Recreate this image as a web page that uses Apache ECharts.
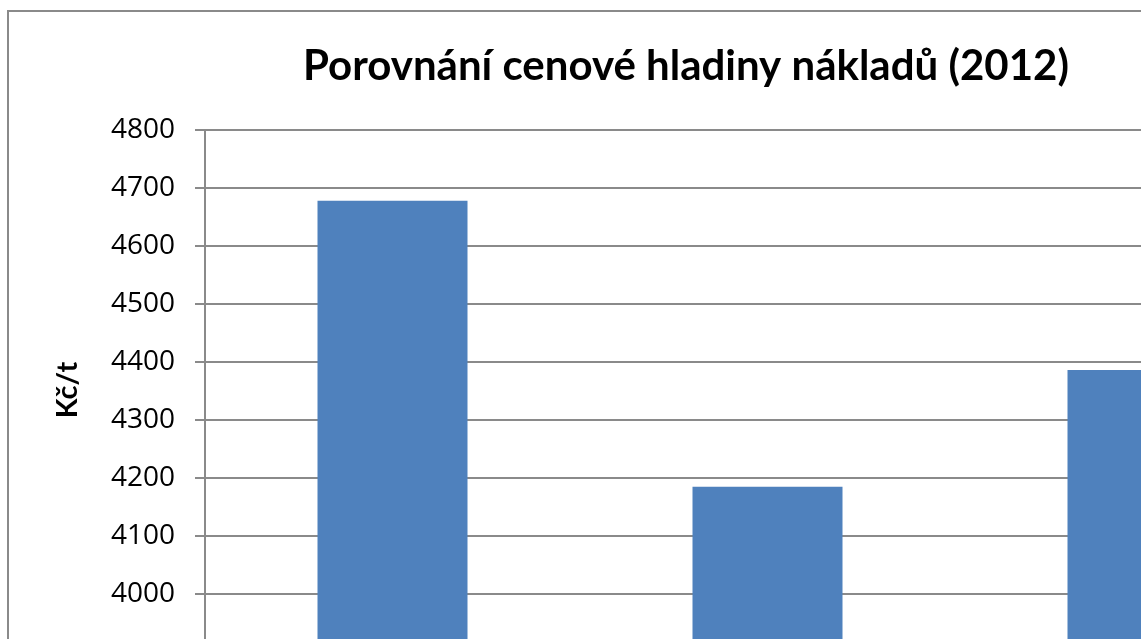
<!DOCTYPE html>
<html>
<head>
<meta charset="utf-8">
<script src="https://cdn.jsdelivr.net/npm/echarts@6/dist/echarts.min.js"></script>
<style>
  html, body { margin: 0; padding: 0; background: #fff; }
  #chart { width: 1141px; height: 639px; }
</style>
</head>
<body>
<div id="chart"></div>
<script>
// data (x labels lie below the visible crop)
const categories = ['A', 'B', 'C']
const values = [4678, 4185, 4386]
const titleText = 'Porovnání cenové hladiny nákladů (2012)'
const yName = 'Kč/t'

const gray = '#8a8a8a'

const chart = echarts.init(document.getElementById('chart'), null, { renderer: 'canvas' })

chart.setOption({
  animation: false,
  backgroundColor: '#fff',
  graphic: [
    { // outer chart border, runs past the crop
      type: 'rect',
      shape: { x: 8, y: 11, width: 1400, height: 900 },
      style: { fill: null, stroke: gray, lineWidth: 2 }
    },
    {
      type: 'text',
      x: 686,
      y: 66,
      style: {
        text: titleText,
        font: 'bold 42px Lato',
        fill: '#000',
        textAlign: 'center',
        textVerticalAlign: 'middle'
      }
    },
    {
      type: 'text',
      x: 68,
      y: 390,
      rotation: Math.PI / 2,
      style: {
        text: yName,
        font: 'bold 29px Lato',
        fill: '#000',
        textAlign: 'center',
        textVerticalAlign: 'middle'
      }
    }
  ],
  grid: {
    left: 205,
    top: 130,
    width: 1125,
    height: 754,
    outerBoundsMode: 'none'
  },
  xAxis: {
    type: 'category',
    data: categories,
    axisLine: { lineStyle: { color: gray, width: 2 } },
    axisTick: { show: false },
    axisLabel: { show: false }
  },
  yAxis: {
    type: 'value',
    min: 3500,
    max: 4800,
    interval: 100,
    axisLine: { show: true, lineStyle: { color: gray, width: 2 } },
    axisTick: { show: true, length: 10, lineStyle: { color: gray, width: 2 } },
    axisLabel: {
      margin: 30,
      color: '#000',
      fontSize: 28,
      fontFamily: 'Open Sans',
      formatter: v => String(v)
    },
    splitLine: { lineStyle: { color: gray, width: 2 } }
  },
  series: [{
    type: 'bar',
    data: values,
    barWidth: '40%',
    itemStyle: { color: '#4f81bd' }
  }]
})
</script>
</body>
</html>
